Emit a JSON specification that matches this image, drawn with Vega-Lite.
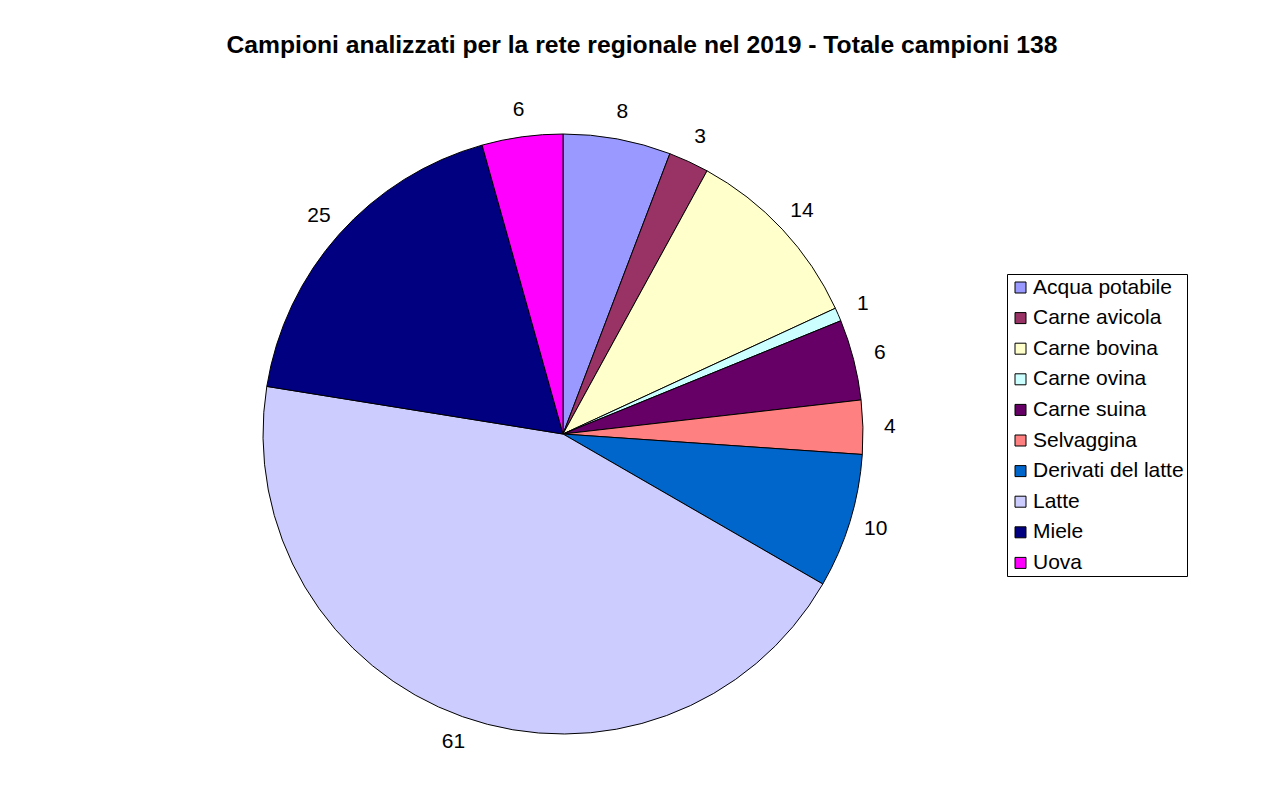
{
  "$schema": "https://vega.github.io/schema/vega-lite/v6.json",
  "width": 1126,
  "height": 868,
  "autosize": {"type": "none"},
  "padding": {"left": 0, "top": 0, "right": 147, "bottom": 0},
  "background": "white",
  "config": {"view": {"stroke": null}, "font": "Liberation Sans"},
  "title": {
    "text": "Campioni analizzati per la rete regionale nel 2019 - Totale campioni 138",
    "font": "Liberation Sans",
    "fontSize": 24.7,
    "fontWeight": "bold",
    "color": "black",
    "anchor": "middle",
    "frame": "group",
    "offset": 0,
    "dx": 79,
    "dy": 78,
    "baseline": "alphabetic"
  },
  "data": {
    "values": [
      {"ordine": 1, "categoria": "Acqua potabile", "campioni": 8},
      {"ordine": 2, "categoria": "Carne avicola", "campioni": 3},
      {"ordine": 3, "categoria": "Carne bovina", "campioni": 14},
      {"ordine": 4, "categoria": "Carne ovina", "campioni": 1},
      {"ordine": 5, "categoria": "Carne suina", "campioni": 6},
      {"ordine": 6, "categoria": "Selvaggina", "campioni": 4},
      {"ordine": 7, "categoria": "Derivati del latte", "campioni": 10},
      {"ordine": 8, "categoria": "Latte", "campioni": 61},
      {"ordine": 9, "categoria": "Miele", "campioni": 25},
      {"ordine": 10, "categoria": "Uova", "campioni": 6}
    ]
  },
  "encoding": {
    "theta": {"field": "campioni", "type": "quantitative", "stack": true},
    "order": {"field": "ordine", "type": "quantitative"}
  },
  "layer": [
    {
      "mark": {"type": "arc", "radius": 300, "stroke": "black", "strokeWidth": 1},
      "encoding": {
        "color": {
          "field": "categoria",
          "type": "nominal",
          "sort": null,
          "scale": {
            "domain": ["Acqua potabile", "Carne avicola", "Carne bovina", "Carne ovina", "Carne suina", "Selvaggina", "Derivati del latte", "Latte", "Miele", "Uova"],
            "range": ["#9999FF", "#993366", "#FFFFCC", "#CCFFFF", "#660066", "#FF8080", "#0066CC", "#CCCCFF", "#000080", "#FF00FF"]
          },
          "legend": {
            "orient": "none",
            "legendX": 1007,
            "legendY": 274,
            "title": null,
            "fillColor": "white",
            "strokeColor": "black",
            "padding": 3,
            "symbolType": "square",
            "symbolSize": 121,
            "symbolStrokeColor": "black",
            "symbolStrokeWidth": 1,
            "symbolOpacity": 1,
            "labelFontSize": 21,
            "labelFont": "Liberation Sans",
            "labelColor": "black",
            "rowPadding": 8.6,
            "labelOffset": 2,
            "labelLimit": 300
          }
        }
      }
    },
    {
      "mark": {"type": "text", "radius": 327, "fontSize": 21, "font": "Liberation Sans", "align": "center", "baseline": "middle"},
      "encoding": {
        "text": {"field": "campioni", "type": "quantitative"},
        "detail": {"field": "categoria", "type": "nominal"},
        "color": {"value": "black"}
      }
    }
  ]
}
